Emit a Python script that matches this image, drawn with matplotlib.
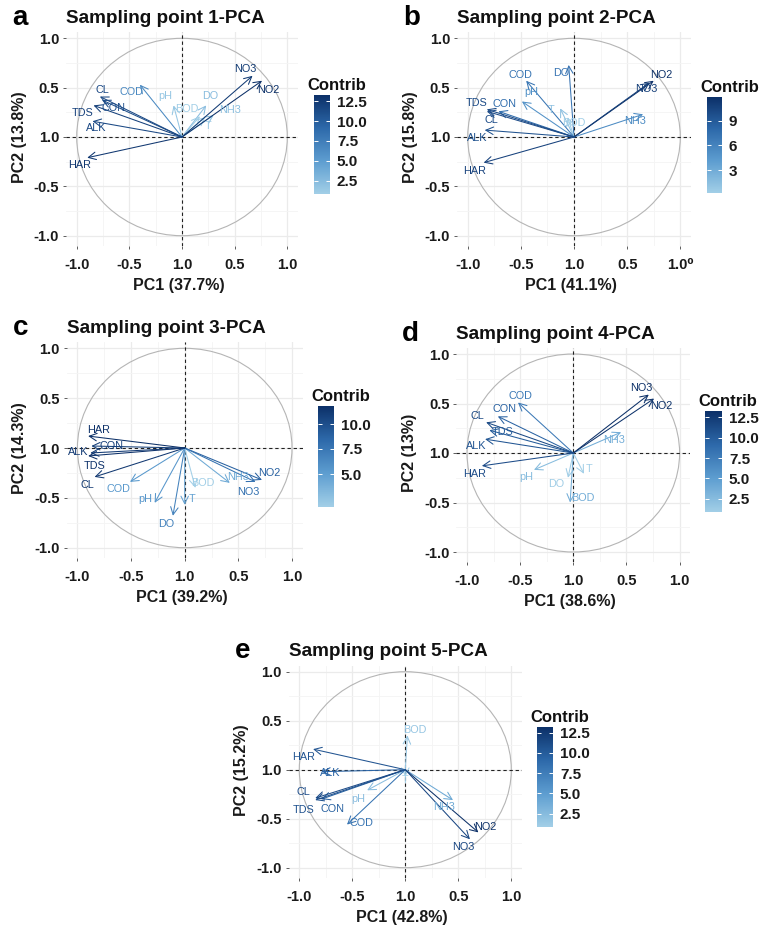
import numpy as np
import matplotlib
matplotlib.use("Agg")
import matplotlib.pyplot as plt
from matplotlib.colors import LinearSegmentedColormap, Normalize
from matplotlib.patches import Circle
from matplotlib.cm import ScalarMappable

plt.rcParams['font.family'] = ['Liberation Sans', 'DejaVu Sans']

# ---------------- data ----------------
variables = ["T", "pH", "DO", "BOD", "COD", "NH3", "NO2", "NO3",
             "CON", "TDS", "HAR", "ALK", "CL"]

titles = ["Sampling point 1-PCA", "Sampling point 2-PCA", "Sampling point 3-PCA",
          "Sampling point 4-PCA", "Sampling point 5-PCA"]
panel_letters = ["a", "b", "c", "d", "e"]
pc1_var = [37.7, 41.1, 39.2, 38.6, 42.8]
pc2_var = [13.8, 15.8, 14.3, 13, 15.2]

pc1_a = [0.22, -0.08, 0.23, 0.17, -0.40, 0.30, 0.76, 0.67, -0.76, -0.84, -0.90, -0.85, -0.78]
pc2_a = [0.20, 0.32, 0.32, 0.21, 0.53, 0.22, 0.57, 0.62, 0.375, 0.32, -0.21, 0.16, 0.41]
contrib_a = [1.2, 1.6, 2.3, 0.8, 6.6, 2.2, 13.3, 12.5, 11.2, 12.1, 12.8, 11.5, 11.5]

pc1_b = [-0.13, -0.49, -0.05, -0.06, -0.45, 0.65, 0.75, 0.71, -0.71, -0.82, -0.85, -0.84, -0.82]
pc2_b = [0.29, 0.36, 0.73, 0.20, 0.57, 0.23, 0.57, 0.55, 0.26, 0.28, -0.26, 0.07, 0.26]
contrib_b = [1.3, 5.0, 7.2, 0.2, 7.1, 5.5, 11.9, 10.9, 7.7, 10.1, 10.7, 9.6, 10.0]

pc1_c = [0.00, -0.28, -0.11, 0.10, -0.51, 0.42, 0.72, 0.66, -0.87, -0.90, -0.90, -0.88, -0.84]
pc2_c = [-0.57, -0.55, -0.68, -0.40, -0.34, -0.35, -0.32, -0.34, 0.02, -0.08, 0.12, -0.05, -0.29]
contrib_c = [4.7, 5.5, 6.8, 1.7, 5.4, 4.3, 8.9, 7.9, 10.9, 11.7, 11.8, 11.2, 11.3]

pc1_d = [0.10, -0.37, -0.05, -0.03, -0.52, 0.45, 0.76, 0.71, -0.71, -0.79, -0.86, -0.83, -0.82]
pc2_d = [-0.21, -0.17, -0.25, -0.50, 0.51, 0.21, 0.55, 0.59, 0.37, 0.23, -0.13, 0.14, 0.31]
contrib_d = [0.85, 2.5, 1.0, 3.7, 7.9, 3.7, 13.1, 13.3, 9.6, 10.1, 11.3, 10.6, 11.5]

nan = float("nan")
pc1_e = [0.00, -0.36, nan, 0.02, -0.55, 0.45, 0.69, 0.61, -0.79, -0.85, -0.87, -0.79, -0.85]
pc2_e = [-0.07, -0.21, nan, 0.35, -0.56, -0.31, -0.64, -0.71, -0.30, -0.31, 0.21, -0.02, -0.29]
contrib_e = [0.85, 2.3, nan, 1.6, 8.2, 4.0, 13.2, 11.6, 9.6, 10.8, 10.6, 9.4, 11.2]

x_ticks = [-1.0, -0.5, 0.0, 0.5, 1.0]
x_ticklabels = ["-1.0", "-0.5", "1.0", "0.5", "1.0"]
y_ticks = [-1.0, -0.5, 0.0, 0.5, 1.0]
y_ticklabels = ["-1.0", "-0.5", "1.0", "0.5", "1.0"]
cbar_ticks = [[2.5, 5.0, 7.5, 10.0, 12.5], [3, 6, 9], [5.0, 7.5, 10.0],
              [2.5, 5.0, 7.5, 10.0, 12.5], [2.5, 5.0, 7.5, 10.0, 12.5]]
cbar_fmt = ["{:.1f}", "{:d}", "{:.1f}", "{:.1f}", "{:.1f}"]

# ---------------- layout (label nudges, in data units) ----------------
nudge_a = {"T": (0.03, -0.09), "pH": (-0.08, 0.10), "DO": (0.04, 0.10), "BOD": (-0.12, 0.07),
           "COD": (-0.08, -0.07), "NH3": (0.16, 0.05), "NO2": (0.06, -0.09), "NO3": (-0.07, 0.07),
           "CON": (0.11, -0.085), "TDS": (-0.10, -0.08), "HAR": (-0.07, -0.07),
           "ALK": (0.04, -0.07), "CL": (0.02, 0.07)}
nudge_b = {"T": (-0.09, -0.02), "pH": (0.09, 0.10), "DO": (-0.07, -0.08), "BOD": (0.06, -0.06),
           "COD": (-0.05, 0.06), "NH3": (-0.08, -0.07), "NO2": (0.07, 0.06), "NO3": (-0.03, -0.06),
           "CON": (0.06, 0.07), "TDS": (-0.10, 0.06), "HAR": (-0.09, -0.08),
           "ALK": (-0.07, -0.08), "CL": (0.04, -0.09)}
nudge_c = {"T": (0.07, 0.06), "pH": (-0.09, 0.04), "DO": (-0.06, -0.08), "BOD": (0.07, 0.05),
           "COD": (-0.11, -0.07), "NH3": (0.08, 0.06), "NO2": (0.07, 0.07), "NO3": (-0.07, -0.10),
           "CON": (0.19, 0.0), "TDS": (0.06, -0.10), "HAR": (0.10, 0.06),
           "ALK": (-0.11, 0.01), "CL": (-0.07, -0.08)}
nudge_d = {"T": (0.05, 0.05), "pH": (-0.07, -0.07), "DO": (-0.11, -0.06), "BOD": (0.115, 0.05),
           "COD": (0.02, 0.07), "NH3": (-0.07, -0.08), "NO2": (0.07, -0.08), "NO3": (-0.07, 0.07),
           "CON": (0.06, 0.07), "TDS": (0.12, -0.02), "HAR": (-0.07, -0.08),
           "ALK": (-0.08, -0.07), "CL": (-0.08, 0.06)}
nudge_e = {"T": (0.0, -0.035), "pH": (-0.08, -0.09), "DO": (0.0, 0.0), "BOD": (0.07, 0.06),
           "COD": (0.14, 0.02), "NH3": (-0.08, -0.07), "NO2": (0.06, 0.06), "NO3": (-0.06, -0.08),
           "CON": (0.10, -0.10), "TDS": (-0.11, -0.10), "HAR": (-0.09, -0.08),
           "ALK": (0.08, -0.01), "CL": (-0.11, 0.06)}

# axes placement in pixels: center of circle and pixels per unit
W, H = 775, 925
panel_geom = [
    dict(cx=182.0, cy=137.0, ux=105.3, uy=98.7, cb=(314, 95, 16, 99)),
    dict(cx=574.0, cy=137.0, ux=106.3, uy=98.7, cb=(707, 97, 15, 96)),
    dict(cx=184.7, cy=448.0, ux=107.3, uy=99.7, cb=(318, 406, 16, 101)),
    dict(cx=573.3, cy=453.0, ux=106.3, uy=99.0, cb=(705, 411, 17, 101)),
    dict(cx=405.3, cy=769.7, ux=106.0, uy=98.0, cb=(537, 727, 16, 100)),
]

pcs = [(pc1_a, pc2_a, contrib_a, nudge_a), (pc1_b, pc2_b, contrib_b, nudge_b),
       (pc1_c, pc2_c, contrib_c, nudge_c), (pc1_d, pc2_d, contrib_d, nudge_d),
       (pc1_e, pc2_e, contrib_e, nudge_e)]

cmap = LinearSegmentedColormap.from_list(
    "contrib", ["#a2cfe7", "#5d9dd0", "#2d69aa", "#0c3068"])

XL = (-1.1, 1.1)
YL = (-1.1, 1.06)

fig = plt.figure(figsize=(W / 100, H / 100), dpi=100)


def fx(px):
    return px / W


def fy(py):
    return 1 - py / H


for i, (g, (p1, p2, ctb, nud)) in enumerate(zip(panel_geom, pcs)):
    left_px = g["cx"] + XL[0] * g["ux"]
    right_px = g["cx"] + XL[1] * g["ux"]
    top_px = g["cy"] - YL[1] * g["uy"]
    bot_px = g["cy"] - YL[0] * g["uy"]
    ax = fig.add_axes([fx(left_px), fy(bot_px), (right_px - left_px) / W, (bot_px - top_px) / H])
    ax.set_xlim(*XL)
    ax.set_ylim(*YL)
    for s in ax.spines.values():
        s.set_visible(False)
    ax.set_axisbelow(True)
    ax.set_xticks(x_ticks)
    xl = list(x_ticklabels)
    if i == 1:
        xl[-1] = "1.0\u2070"
    ax.set_xticklabels(xl)
    ax.set_yticks(y_ticks)
    ax.set_yticklabels(y_ticklabels)
    ax.set_xticks([-0.75, -0.25, 0.25, 0.75], minor=True)
    ax.set_yticks([-0.75, -0.25, 0.25, 0.75], minor=True)
    ax.grid(which="major", color="#ebebeb", lw=0.9)
    ax.grid(which="minor", color="#f4f4f4", lw=0.6)
    ax.tick_params(which="minor", length=0)
    ax.tick_params(axis="x", which="major", length=2, width=0.6, color="#444444", pad=7,
                   labelsize=10.5, labelcolor="#1a1a1a")
    ax.tick_params(axis="y", which="major", length=2, width=0.6, color="#444444", pad=3,
                   labelsize=10.5, labelcolor="#1a1a1a")
    for lab in ax.get_xticklabels() + ax.get_yticklabels():
        lab.set_fontweight("bold")

    ax.add_patch(Circle((0, 0), 1.0, fill=False, ec="#b5b5b5", lw=0.8, zorder=1))
    ax.axhline(0, color="#222222", lw=0.8, ls=(0, (3, 2.5)), zorder=2)
    ax.axvline(0, color="#222222", lw=0.8, ls=(0, (3, 2.5)), zorder=2)

    vals = np.array(ctb, dtype=float)
    norm = Normalize(vmin=np.nanmin(vals), vmax=np.nanmax(vals))
    for v, x, y, c in zip(variables, p1, p2, ctb):
        if np.isnan(x):
            continue
        col = cmap(norm(c))
        ax.annotate("", xy=(x, y), xytext=(0, 0),
                    arrowprops=dict(arrowstyle="->,head_length=0.6,head_width=0.3",
                                    color=col, lw=0.75, shrinkA=0, shrinkB=0,
                                    mutation_scale=9), zorder=3)
        dx, dy = nud[v]
        ax.text(x + dx, y + dy, v, color=col, fontsize=7.8, ha="center", va="center",
                zorder=4)

    # titles and labels
    fig.text(fx(left_px), fy(top_px - 9.5), titles[i], fontsize=13.6, fontweight="bold",
             ha="left", va="baseline", color="#111111")
    fig.text(fx(left_px - 54), fy(top_px - 7.5), panel_letters[i], fontsize=20,
             fontweight="bold", ha="left", va="baseline", color="#000000")
    fig.text(fx(g["cx"] - 3), fy(bot_px + 40), f"PC1 ({pc1_var[i]}%)", fontsize=11.5,
             fontweight="bold", ha="center", va="center", color="#1a1a1a")
    fig.text(fx(left_px - 47), fy(g["cy"]), f"PC2 ({pc2_var[i]}%)", fontsize=11.5,
             fontweight="bold", ha="center", va="center", rotation=90, color="#1a1a1a")

    # colorbar
    bx, by, bw, bh = g["cb"]
    cax = fig.add_axes([fx(bx), fy(by + bh), bw / W, bh / H])
    sm = ScalarMappable(norm=norm, cmap=cmap)
    cb = fig.colorbar(sm, cax=cax, ticks=cbar_ticks[i])
    cb.outline.set_visible(False)
    cb.ax.set_yticklabels([cbar_fmt[i].format(t) for t in cbar_ticks[i]])
    cax.yaxis.set_ticks_position("both")
    cax.tick_params(axis="y", direction="in", color="white", length=3, width=0.7,
                    labelleft=False, labelright=True, labelsize=11, pad=5)
    for lab in cax.get_yticklabels():
        lab.set_fontweight("bold")
        lab.set_color("#1a1a1a")
    fig.text(fx(bx - 7), fy(by - 5), "Contrib", fontsize=12, fontweight="bold",
             ha="left", va="baseline", color="#111111")

fig.savefig("out.png", dpi=100, facecolor="white")
